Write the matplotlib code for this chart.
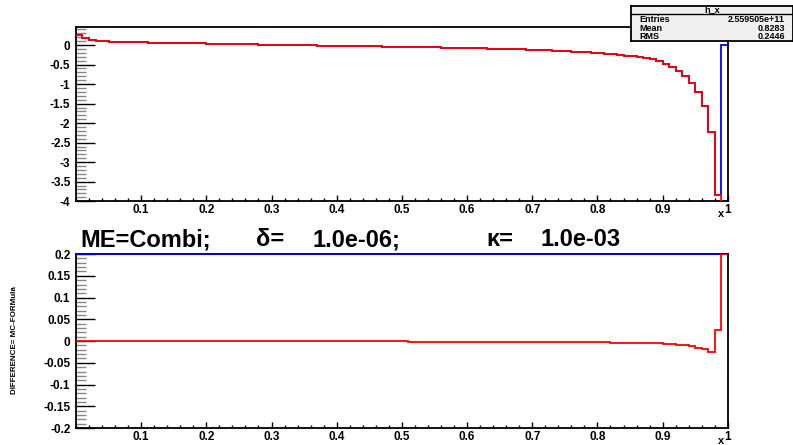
import numpy as np
import matplotlib
matplotlib.use("Agg")
import matplotlib.pyplot as plt
from matplotlib import font_manager
from matplotlib.ticker import MultipleLocator, FixedLocator, FixedFormatter, FuncFormatter

plt.rcParams['font.family'] = ['Liberation Sans', 'DejaVu Sans']

# 100 bins on [0, 1]
edges = np.linspace(0, 1, 101)

# top pad: h_x (red) and formula (blue)
red_top = [0.26, 0.17, 0.13, 0.11, 0.10, 0.092, 0.086, 0.081, 0.076, 0.072,
           0.068, 0.065, 0.062, 0.059, 0.056, 0.053, 0.050, 0.047, 0.044, 0.041,
           0.038, 0.035, 0.032, 0.029, 0.026, 0.023, 0.020, 0.017, 0.014, 0.011,
           0.008, 0.005, 0.002, -0.001, -0.004, -0.007, -0.010, -0.012, -0.015, -0.018,
           -0.020, -0.023, -0.025, -0.028, -0.030, -0.033, -0.035, -0.038, -0.040, -0.043,
           -0.045, -0.048, -0.051, -0.054, -0.057, -0.060, -0.063, -0.066, -0.069, -0.072,
           -0.076, -0.080, -0.084, -0.088, -0.092, -0.097, -0.102, -0.107, -0.112, -0.118,
           -0.124, -0.130, -0.137, -0.144, -0.152, -0.160, -0.169, -0.178, -0.188, -0.199,
           -0.210, -0.222, -0.235, -0.250, -0.267, -0.286, -0.308, -0.333, -0.362, -0.420,
           -0.49, -0.57, -0.66, -0.79, -0.96, -1.20, -1.56, -2.22, -3.85, -6.0]
blue_top = red_top[:-1] + [0.0]

# bottom pad: difference MC - formula
red_diff = [0.0, 0.0, 0.0, 0.0, 0.0, 0.0, 0.0, 0.0, 0.0, 0.0,
            0.0, 0.0, 0.0, 0.0, 0.0, 0.0, 0.0, 0.0, 0.0, 0.0,
            0.0, 0.0, 0.0, 0.0, 0.0, 0.0, 0.0, 0.0, 0.0, 0.0,
            0.0, 0.0, 0.0, 0.0, 0.0, -0.0003, -0.0003, -0.0003, -0.0004, -0.0004,
            -0.0005, -0.0005, -0.0005, -0.0006, -0.0006, -0.0007, -0.0007, -0.0008, -0.0008, -0.0009,
            -0.0009, -0.0010, -0.0010, -0.0011, -0.0011, -0.0012, -0.0012, -0.0013, -0.0013, -0.0014,
            -0.0014, -0.0015, -0.0015, -0.0016, -0.0016, -0.0017, -0.0017, -0.0018, -0.0019, -0.0020,
            -0.0021, -0.0022, -0.0023, -0.0024, -0.0025, -0.0026, -0.0027, -0.0028, -0.0029, -0.0030,
            -0.0031, -0.0032, -0.0034, -0.0036, -0.0038, -0.0040, -0.0042, -0.0045, -0.0048, -0.0052,
            -0.006, -0.007, -0.008, -0.010, -0.012, -0.015, -0.019, -0.024, 0.025, 0.5]
blue_diff = [0.2] * 100

stats_title = "h_x"
stats_rows = [("Entries", "2.559505e+11"), ("Mean", "0.8283"), ("RMS", "0.2446")]
title_parts = ["ME=Combi;", "\u03b4=", "1.0e-06;", "\u03ba=", "1.0e-03"]
title_x = [80, 256, 312, 486, 540]
ylabel_bottom = "DIFFERENCE= MC-FORMula"
xlabels = ["0.1", "0.2", "0.3", "0.4", "0.5", "0.6", "0.7", "0.8", "0.9", "1"]

W, H = 793, 445
fig = plt.figure(figsize=(W / 100, H / 100), dpi=100)
ax1 = fig.add_axes([0.0958, 0.548, 0.822, 0.391])
ax2 = fig.add_axes([0.0958, 0.038, 0.822, 0.391])

ax1.stairs(blue_top, edges, color="blue", lw=1.3, baseline=None, zorder=3)
ax1.stairs(red_top, edges, color="red", lw=1.3, baseline=None, zorder=3)
ax1.set_ylim(-4, 0.46)
ax1.yaxis.set_major_locator(MultipleLocator(0.5))
ax1.yaxis.set_minor_locator(MultipleLocator(0.1))

ax2.stairs(np.clip(blue_diff, -0.2, 0.2), edges, color="blue", lw=1.3,
           baseline=None, zorder=3)
ax2.stairs(np.clip(red_diff, -0.2, 0.2), edges, color="red", lw=1.3,
           baseline=None, zorder=3)
ax2.set_ylim(-0.2, 0.2)
ax2.yaxis.set_major_locator(MultipleLocator(0.05))
ax2.yaxis.set_minor_locator(MultipleLocator(0.01))

fmt = FuncFormatter(lambda v, p: "%g" % round(v, 6))
for ax in (ax1, ax2):
    ax.set_xlim(0, 1)
    ax.xaxis.set_major_locator(FixedLocator(np.arange(1, 11) / 10))
    ax.xaxis.set_major_formatter(FixedFormatter(xlabels))
    ax.xaxis.set_minor_locator(MultipleLocator(0.02))
    ax.yaxis.set_major_formatter(fmt)
    ax.tick_params(axis="x", which="major", direction="in", length=4, width=1,
                   labelsize=8.5, pad=2)
    ax.tick_params(axis="x", which="minor", direction="in", length=2, width=1)
    ax.tick_params(axis="y", which="major", direction="in", length=14, width=1,
                   labelsize=8.5, pad=4)
    ax.tick_params(axis="y", which="minor", direction="in", length=7, width=1,
                   color="#888888")
    for lab in ax.get_xticklabels() + ax.get_yticklabels():
        lab.set_fontweight("bold")
    for s in ax.spines.values():
        s.set_linewidth(1.3)
    ax.text(0.99, -0.072, "x", transform=ax.transAxes, fontsize=8,
            fontweight="bold", ha="center", va="center")

for txt, xp in zip(title_parts, title_x):
    fig.text(xp / W, 0.461, txt, fontsize=17, fontweight="bold", va="center")

names = {f.name for f in font_manager.fontManager.ttflist}
if "Liberation Sans Narrow" in names:
    lab_family, lab_size = ["Liberation Sans Narrow", "DejaVu Sans"], 7
else:
    lab_family, lab_size = ["Liberation Sans", "DejaVu Sans"], 5.8
fig.text(15 / W, 1 - 340 / H, ylabel_bottom, rotation=90, fontsize=lab_size,
         family=lab_family, fontweight="bold", va="center", ha="center")

# statistics box
box = fig.add_axes([631 / W, 1 - 41 / H, 1 - 631 / W, 35 / H])
box.set_xlim(0, 1)
box.set_ylim(0, 1)
box.set_xticks([])
box.set_yticks([])
box.set_facecolor("#f0f0f0")
for s in box.spines.values():
    s.set_linewidth(1.3)
box.axhline(0.77, color="black", lw=1)
box.text(0.5, 0.89, stats_title, ha="center", va="center", fontsize=6.5,
         fontweight="bold")
for i, (k, v) in enumerate(stats_rows):
    y = 0.6 - i * 0.23
    box.text(0.05, y, k, ha="left", va="center", fontsize=6.5, fontweight="bold")
    box.text(0.95, y, v, ha="right", va="center", fontsize=6.5, fontweight="bold")

fig.savefig("out.png", dpi=100)
